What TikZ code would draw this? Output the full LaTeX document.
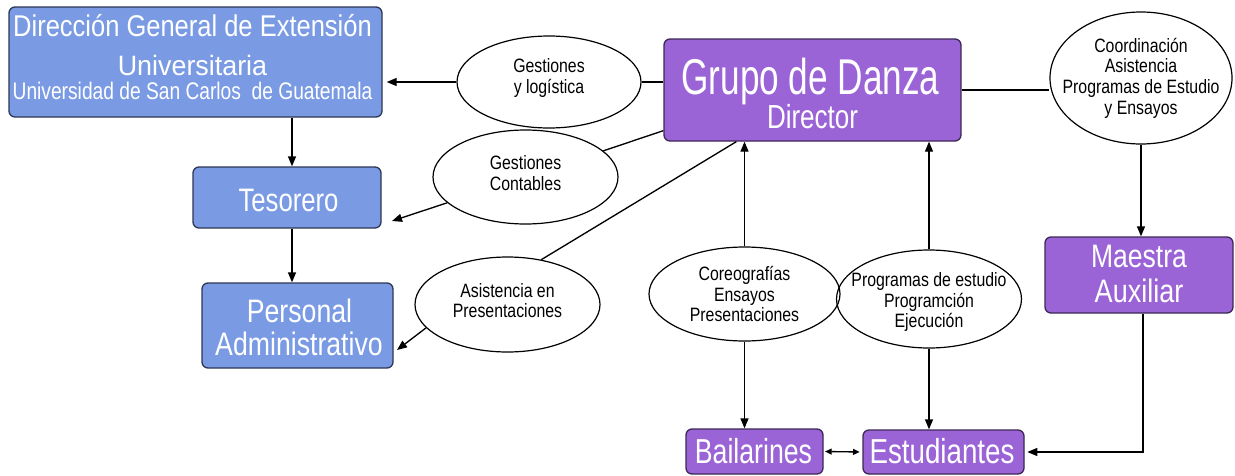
\documentclass[tikz,border=0pt]{standalone}
\usepackage{fontspec}
\setmainfont{Liberation Sans}
\usetikzlibrary{shapes.geometric,arrows.meta,calc}
\definecolor{boxblue}{RGB}{122,155,228}
\definecolor{boxblueline}{RGB}{45,55,85}
\definecolor{boxpurple}{RGB}{155,100,214}
\definecolor{boxpurpleline}{RGB}{60,40,85}
\newcommand\hsq[2]{\scalebox{#1}[1]{#2}}
\newcommand\ol[1]{\scalebox{0.82}[1]{#1}}
\tikzset{
  boxsize/.style 2 args={minimum width=#1*0.75pt, minimum height=#2*0.75pt},
  bluebox/.style={draw=boxblueline, fill=boxblue, rounded corners=4.5pt, line width=1pt, inner sep=0pt},
  purplebox/.style={draw=boxpurpleline, fill=boxpurple, rounded corners=4.5pt, line width=1pt, inner sep=0pt},
  oval/.style={draw, ellipse, line width=0.9pt, inner sep=0pt},
  otext/.style={align=center, font=\fontsize{14.5}{15.5}\selectfont, inner sep=0pt},
  btext/.style={anchor=base, text=white, inner sep=0pt},
  conn/.style={line width=1pt},
  arr/.style={conn, -{Triangle[length=7.5pt,width=6pt]}},
  darr/.style={conn, {Triangle[length=5pt,width=4.5pt]}-{Triangle[length=5pt,width=4.5pt]}},
}
\begin{document}
\begin{tikzpicture}[x=0.75pt,y=-0.75pt]
\useasboundingbox[fill=white] (0,0) rectangle (1235,475);

% boxes
\node[bluebox, boxsize={373}{110}] (dgeu) at (195.5,62) {};
\node[bluebox, boxsize={188}{61}] (tes) at (287,197.5) {};
\node[bluebox, boxsize={191}{85}] (pers) at (297.5,325.5) {};
\node[purplebox, boxsize={297}{102}] (grupo) at (812.5,90) {};
\node[purplebox, boxsize={188}{76}] (mae) at (1139,275) {};
\node[purplebox, boxsize={137}{45}] (bail) at (754.5,451.5) {};
\node[purplebox, boxsize={161}{44}] (est) at (943.5,452) {};

% box texts
\node[btext, font=\fontsize{22.5}{23}\selectfont] (t1) at (192.5,36) {\hsq{0.85}{Dirección General de Extensión}};
\node[btext, font=\fontsize{21}{21}\selectfont] (t2) at (192.5,75) {\hsq{0.96}{Universitaria}};
\node[btext, font=\fontsize{18}{18}\selectfont] (t3) at (192.5,99) {\hsq{0.80}{Universidad de San Carlos\ \ de Guatemala}};
\node[btext, font=\fontsize{24.4}{25}\selectfont] (t4) at (288.5,211) {\hsq{0.79}{Tesorero}};
\node[btext, font=\fontsize{24.4}{25}\selectfont] (t5) at (299.5,322) {\hsq{0.82}{Personal}};
\node[btext, font=\fontsize{24.4}{25}\selectfont] (t6) at (299,355) {\hsq{0.82}{Administrativo}};
\node[btext, font=\fontsize{37.7}{38}\selectfont] (t7) at (810.5,94) {\hsq{0.70}{Grupo de Danza}};
\node[btext, font=\fontsize{25}{25}\selectfont] (t8) at (812.5,128) {\hsq{0.78}{Director}};
\node[btext, font=\fontsize{24.4}{25}\selectfont] (t9) at (1139,267) {\hsq{0.815}{Maestra}};
\node[btext, font=\fontsize{24.4}{25}\selectfont] (t10) at (1139,302) {\hsq{0.83}{Auxiliar}};
\node[btext, font=\fontsize{26}{26}\selectfont] (t11) at (753.5,463) {\hsq{0.77}{Bailarines}};
\node[btext, font=\fontsize{26}{26}\selectfont] (t12) at (942,463) {\hsq{0.80}{Estudiantes}};

% ellipses
\node[oval, boxsize={184}{92}] (e1) at (549,82) {};
\node[oval, boxsize={185}{94}] (e2) at (525.5,177) {};
\node[oval, boxsize={185}{95}] (e3) at (507.5,304.5) {};
\node[oval, boxsize={182}{132}] (e4) at (1141,78) {};
\node[oval, boxsize={191}{94}] (e5) at (744.5,294) {};
\node[oval, boxsize={185}{98}] (e6) at (929,299) {};

\node[otext] (e1t) at ($(e1)+(0,-4)$) {\ol{Gestiones}\\\ol{y logística}};
\node[otext] (e2t) at ($(e2)+(0,-4)$) {\ol{Gestiones}\\\ol{Contables}};
\node[otext] (e3t) at ($(e3)+(0,-4)$) {\ol{Asistencia en}\\\ol{Presentaciones}};
\node[otext] (e4t) at (e4) {\ol{Coordinación}\\\ol{Asistencia}\\\ol{Programas de Estudio}\\\ol{y Ensayos}};
\node[otext] (e5t) at (e5) {\ol{Coreografías}\\\ol{Ensayos}\\\ol{Presentaciones}};
\node[otext] (e6t) at ($(e6)+(0,3)$) {\ol{Programas de estudio}\\\ol{Programción}\\\ol{Ejecución}};

% connector end points
\coordinate (tesin) at (392,221);
\coordinate (persin) at (397,350);
\path ($(tes.north)+(5,0)$) coordinate (tn);

% connectors
\draw[conn] (grupo.west |- e1.east) -- (e1.east);
\draw[arr, shorten >=3pt] (e1.west) -- (e1.west -| dgeu.east);
\draw[conn] ($(grupo.south west)+(0,-11)$) -- (e2);
\draw[arr] (e2) -- (tesin);
\draw[conn] ($(grupo.south west)+(73,0)$) -- (e3.53);
\draw[arr] (e3.196) -- (persin);
\draw[arr] (dgeu.south -| tn) -- (tn);
\draw[arr] (tes.south -| tn) -- (pers.north -| tn);
\draw[arr] (e5.north) -- (e5.north |- grupo.south);
\draw[arr] (e5.south) -- (e5.south |- bail.north);
\draw[arr] (e6.north) -- (e6.north |- grupo.south);
\draw[arr] (e6.south) -- (e6.south |- est.north);
\draw[conn] (grupo.east) -- (grupo.east -| e4.west);
\draw[arr] (e4.south) -- (e4.south |- mae.north);
\draw[arr, shorten >=2pt] ($(mae.south)+(4,0)$) |- (est.east);
\draw[darr, shorten <=1pt, shorten >=2pt] (bail.east) -- (est.west);
\end{tikzpicture}
\end{document}
